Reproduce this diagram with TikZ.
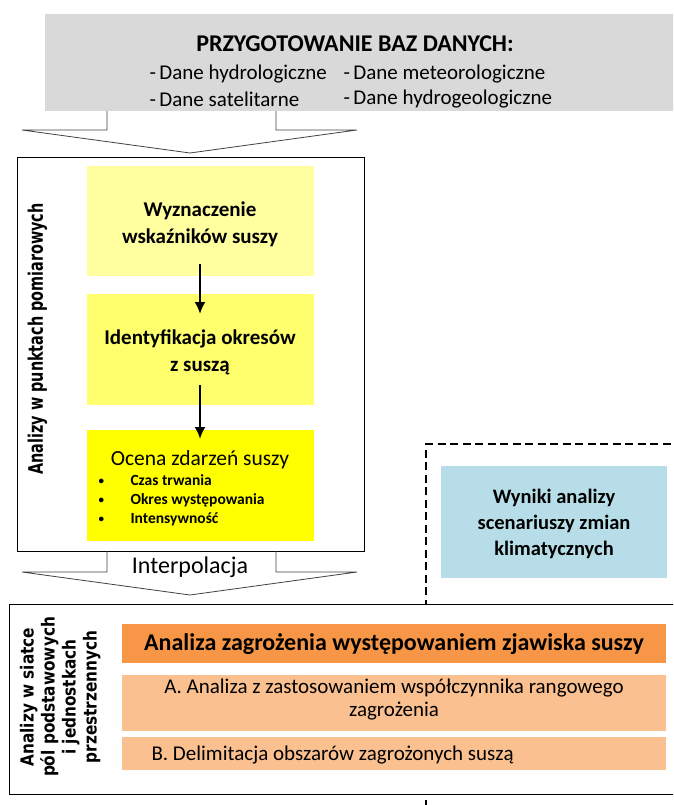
\documentclass[tikz,border=0pt]{standalone}
\usepackage{fontspec}
\usepackage{graphicx}
\setmainfont{Carlito}
\newfontfamily\vfont{DejaVu Sans}
\usetikzlibrary{arrows.meta}
\definecolor{grayfill}{RGB}{217,217,217}
\definecolor{yelA}{RGB}{255,255,160}
\definecolor{yelB}{RGB}{255,255,110}
\definecolor{yelC}{RGB}{255,255,0}
\definecolor{bluefill}{RGB}{183,222,232}
\definecolor{orangefill}{RGB}{247,150,70}
\definecolor{peachfill}{RGB}{250,192,144}
\newcommand{\narrowtext}[2]{\scalebox{#1}[1]{\begin{tabular}{@{}c@{}}#2\end{tabular}}}
\newcommand{\smallbullet}{\makebox[35pt][l]{\hspace{3pt}\raisebox{1pt}{\fontsize{11}{11}\selectfont•}}}
\tikzset{
  panel/.style={draw=black, line width=0.9pt, fill=white},
  band/.style={draw=none, inner sep=0pt},
  flow/.style={line width=2.5pt, -{Latex[length=12pt,width=11pt]}},
  blockarrow/.style={draw=black!75, line width=0.8pt, line join=miter},
  boldtxt/.style={font=\fontsize{21}{27}\selectfont\bfseries, align=center},
  sidetxt/.style={rotate=90, inner sep=0pt},
}
\begin{document}
\begin{tikzpicture}[x=1pt, y=-1pt]
\useasboundingbox (0,0) rectangle (673,805);
\begin{scope}
\clip (0,0) rectangle (673,805);

% data preparation header
\fill[grayfill] (45,14) rectangle (680,111);
\node[font=\fontsize{24}{28}\selectfont\bfseries] (title) at (355,44) {PRZYGOTOWANIE BAZ DANYCH:};
\node[anchor=west, font=\fontsize{21}{25}\selectfont] (d1) at (146,74) {-\,Dane hydrologiczne};
\node[anchor=west, font=\fontsize{21}{25}\selectfont] (d2) at (340,74) {-\,Dane meteorologiczne};
\node[anchor=west, font=\fontsize{21}{25}\selectfont] (d3) at (146,99) {-\,Dane satelitarne};
\node[anchor=west, font=\fontsize{21}{25}\selectfont] (d4) at (340,99) {-\,Dane hydrogeologiczne};

% first block arrow
\coordinate (a1l) at (107,111);
\coordinate (a1r) at (276,111);
\coordinate (a1tip) at (190,153);
\draw[blockarrow] (a1l) -- (107,130) -- (22,130) -- (a1tip) -- (357,130) -- (276,130) -- (a1r);

% point analysis panel
\node[panel, minimum width=347pt, minimum height=394pt, anchor=north west, inner sep=0pt] (pts) at (17,157) {};
\node[sidetxt, font=\vfont\bfseries\fontsize{20}{24}\selectfont] (ptslbl) at (38,339)
  {\narrowtext{0.72}{Analizy w punktach pomiarowych}};

\node[band, fill=yelA, minimum width=227pt, minimum height=110pt, anchor=north west] (b1) at (87,166) {};
\node[boldtxt] (t1) at (200,224) {Wyznaczenie\\wskaźników suszy};
\node[band, fill=yelB, minimum width=227pt, minimum height=111pt, anchor=north west] (b2) at (87,294) {};
\node[boldtxt] (t2) at (200,352) {Identyfikacja okresów\\z suszą};
\node[band, fill=yelC, minimum width=227pt, minimum height=111pt, anchor=north west] (b3) at (87,430) {};
\node[font=\fontsize{21.5}{25}\selectfont] (t3) at (200,460) {Ocena zdarzeń suszy};
\node[anchor=west, font=\fontsize{15.5}{19}\selectfont\bfseries, align=left] (t3list) at (92,500)
  {\smallbullet Czas trwania\\\smallbullet Okres występowania\\\smallbullet Intensywność};

\coordinate (f1s) at (200,264);
\coordinate (f1e) at (200,314);
\coordinate (f2s) at (200,385);
\coordinate (f2e) at (200,439);
\draw[flow] (f1s) -- (f1e);
\draw[flow] (f2s) -- (f2e);

% climate scenario frame
\draw[line width=2.3pt, dash pattern=on 8pt off 4.5pt] (426,820) -- (426,444) -- (690,444);
\node[band, fill=bluefill, minimum width=226pt, minimum height=112pt, anchor=north west] (clim) at (441,466) {};
\node[boldtxt, font=\fontsize{20.5}{26}\selectfont\bfseries] (climtxt) at (554,524) {Wyniki analizy\\scenariuszy zmian\\klimatycznych};

% interpolation block arrow
\coordinate (a2l) at (107,551);
\coordinate (a2r) at (276,551);
\coordinate (a2tip) at (190,595);
\draw[blockarrow] (a2l) -- (107,572) -- (22,572) -- (a2tip) -- (357,572) -- (276,572) -- (a2r);
\node[font=\fontsize{24}{28}\selectfont] (interp) at (190,567) {Interpolacja};

% grid analysis panel
\node[panel, minimum width=680pt, minimum height=190pt, anchor=north west, inner sep=0pt] (grid) at (9,604) {};
\node[sidetxt, font=\vfont\bfseries\fontsize{18}{21}\selectfont] (gridlbl) at (61,697)
  {\narrowtext{0.85}{Analizy w siatce\\pól podstawowych\\i jednostkach\\przestrzennych}};

\node[band, fill=orangefill, minimum width=544pt, minimum height=39pt, anchor=north west] (hz) at (122,624) {};
\node[font=\fontsize{24}{25}\selectfont\bfseries] (hztxt) at (394,644) {Analiza zagrożenia występowaniem zjawiska suszy};
\node[band, fill=peachfill, minimum width=544pt, minimum height=56pt, anchor=north west] (pa) at (122,675) {};
\node[font=\fontsize{21}{23}\selectfont, align=center] (patxt) at (394,700) {A. Analiza z zastosowaniem współczynnika rangowego\\zagrożenia};
\node[band, fill=peachfill, minimum width=544pt, minimum height=33pt, anchor=north west] (pb) at (122,737) {};
\node[anchor=west, font=\fontsize{21}{24}\selectfont] (pbtxt) at (148,755) {B. Delimitacja obszarów zagrożonych suszą};
\end{scope}
\end{tikzpicture}
\end{document}
